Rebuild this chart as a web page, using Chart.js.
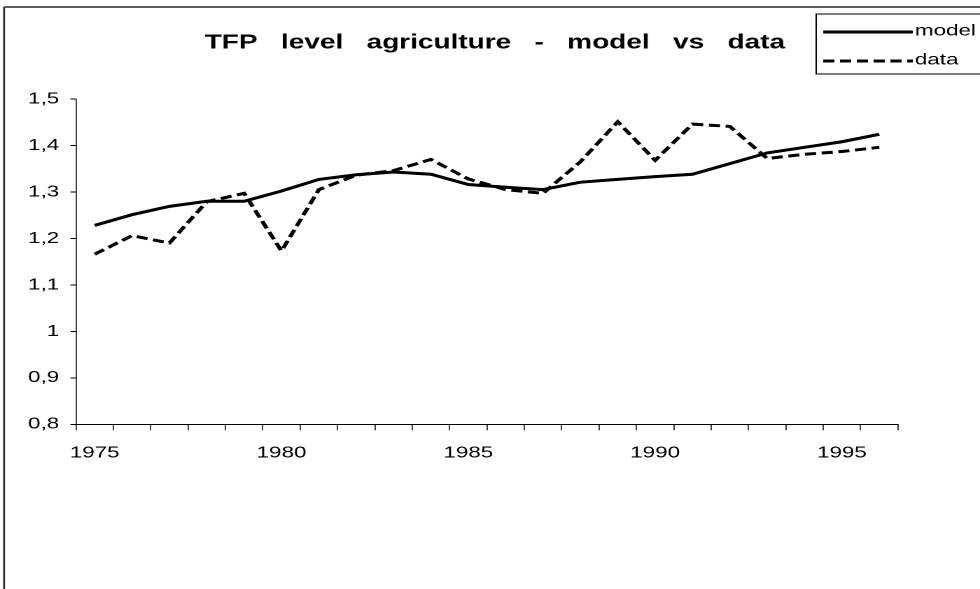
<!DOCTYPE html>
<html>
<head>
<meta charset="utf-8">
<title>TFP level agriculture - model vs data</title>
<script src="https://cdn.jsdelivr.net/npm/chart.js@4.4.1/dist/chart.umd.min.js"></script>
<style>
  html, body { margin: 0; padding: 0; background: #fff; }
</style>
</head>
<body>
<!-- the original picture is stretched sideways, so the canvas is drawn 700 wide and shown 980 wide -->
<canvas id="tfpChart" width="700" height="589" style="width: 980px; height: 589px; display: block;"></canvas>
<script>
const years = ['1975', '1976', '1977', '1978', '1979', '1980', '1981', '1982', '1983', '1984', '1985',
               '1986', '1987', '1988', '1989', '1990', '1991', '1992', '1993', '1994', '1995', '1996'];

const modelValues = [1.228, 1.251, 1.269, 1.280, 1.280, 1.302, 1.327, 1.337, 1.343, 1.338, 1.316,
                     1.310, 1.305, 1.321, 1.327, 1.333, 1.338, 1.361, 1.384, 1.396, 1.408, 1.424];

const dataValues = [1.166, 1.206, 1.190, 1.279, 1.297, 1.173, 1.305, 1.336, 1.346, 1.370, 1.328,
                    1.305, 1.297, 1.365, 1.451, 1.368, 1.446, 1.441, 1.372, 1.381, 1.387, 1.396];

const seriesLabels = ['model', 'data'];
const yMin = 0.8, yMax = 1.5, yStep = 0.1;

Chart.defaults.font.family = "'Liberation Sans', Arial, Helvetica, sans-serif";
Chart.defaults.color = '#000';

// white page, plus the outer frame (top and left edges are the only ones inside the picture)
const framePlugin = {
    id: 'frame',
    beforeDraw(chart) {
        const ctx = chart.ctx;
        ctx.save();
        ctx.fillStyle = '#fff';
        ctx.fillRect(0, 0, chart.width, chart.height);
        ctx.strokeStyle = '#000';
        ctx.lineWidth = 1.3;
        ctx.beginPath();
        ctx.moveTo(2.9, 7);
        ctx.lineTo(chart.width + 5, 7);
        ctx.stroke();
        ctx.strokeStyle = '#333';
        ctx.lineWidth = 1.4;
        ctx.beginPath();
        ctx.moveTo(2.9, 7);
        ctx.lineTo(2.9, chart.height + 5);
        ctx.stroke();
        ctx.restore();
    }
};

// legend box in the top right corner, cut by the picture edge
const legendBoxPlugin = {
    id: 'legendBox',
    afterDraw(chart) {
        const ctx = chart.ctx;
        ctx.save();
        ctx.strokeStyle = '#000';
        ctx.lineWidth = 1;
        ctx.strokeRect(583, 14, 150, 60);
        chart.data.datasets.forEach((ds, i) => {
            const y = 32 + 29 * i;
            ctx.beginPath();
            ctx.setLineDash(ds.borderDash || []);
            ctx.lineWidth = ds.borderWidth;
            ctx.strokeStyle = ds.borderColor;
            ctx.moveTo(588, y);
            ctx.lineTo(652, y);
            ctx.stroke();
            ctx.setLineDash([]);
            ctx.fillStyle = '#000';
            ctx.font = "16px 'Liberation Sans', Arial, sans-serif";
            ctx.textBaseline = 'middle';
            ctx.textAlign = 'left';
            ctx.fillText(ds.label, 653.5, y - 1);
        });
        ctx.restore();
    }
};

new Chart(document.getElementById('tfpChart'), {
    type: 'line',
    data: {
        labels: years,
        datasets: [
            {
                label: seriesLabels[0],
                data: modelValues,
                borderColor: '#000',
                borderWidth: 3,
                pointRadius: 0,
                tension: 0,
                fill: false
            },
            {
                label: seriesLabels[1],
                data: dataValues,
                borderColor: '#000',
                borderWidth: 3,
                borderDash: [8, 4],
                pointRadius: 0,
                tension: 0,
                fill: false
            }
        ]
    },
    options: {
        responsive: false,
        devicePixelRatio: 2,
        animation: false,
        layout: {
            padding: { left: 7, right: 0, top: 0, bottom: 104.7 }
        },
        plugins: {
            legend: { display: false },
            tooltip: { enabled: false },
            title: {
                display: true,
                text: 'TFP   level   agriculture   -   model   vs   data',
                color: '#000',
                font: { size: 20, weight: 'bold' },
                padding: { top: 31, bottom: 44 }
            }
        },
        scales: {
            x: {
                type: 'category',
                offset: true,
                grid: {
                    offset: true,
                    drawOnChartArea: false,
                    drawTicks: true,
                    tickLength: 6,
                    color: '#000',
                    lineWidth: 0.75
                },
                border: { display: true, color: '#000', width: 1 },
                ticks: {
                    autoSkip: false,
                    maxRotation: 0,
                    padding: 13,
                    font: { size: 16 },
                    callback: (value, index) => (index % 5 === 0 ? years[index] : '')
                },
                afterFit: (scale) => { scale.height = 60; }
            },
            y: {
                min: yMin,
                max: yMax,
                grid: {
                    drawOnChartArea: false,
                    drawTicks: true,
                    tickLength: 4,
                    color: '#000',
                    lineWidth: 1
                },
                border: { display: true, color: '#000', width: 0.75 },
                ticks: {
                    stepSize: yStep,
                    padding: 8,
                    font: { size: 16 },
                    callback: (value) => String(Number(value.toFixed(1))).replace('.', ',')
                },
                afterFit: (scale) => { scale.width = 47.3; }
            },
            // empty space on the right of the plot, kept as an invisible axis so the title stays centred on the page
            yRight: {
                position: 'right',
                min: yMin,
                max: yMax,
                grid: { display: false },
                border: { display: false },
                ticks: { display: false },
                afterFit: (scale) => { scale.width = 58.6; }
            }
        }
    },
    plugins: [framePlugin, legendBoxPlugin]
});
</script>
</body>
</html>
